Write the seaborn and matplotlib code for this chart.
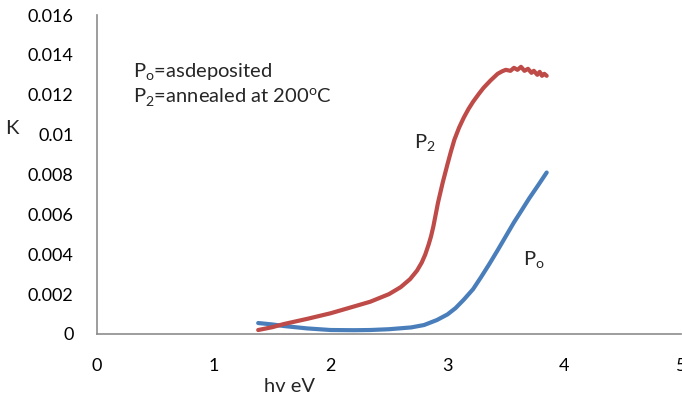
import matplotlib
matplotlib.use("Agg")
import matplotlib.pyplot as plt
import seaborn as sns
import pandas as pd

# Extinction coefficient K versus photon energy for the two films
hv_p0 = [1.38, 1.50, 1.60, 1.80, 2.00, 2.20, 2.34, 2.50, 2.69, 2.80, 2.91, 3.00,
         3.07, 3.14, 3.22, 3.29, 3.36, 3.43, 3.50, 3.57, 3.63, 3.70, 3.77, 3.85]
k_p0 = [0.00055, 0.00048, 0.00040, 0.00028, 0.00020, 0.00019, 0.00020, 0.00024,
        0.00033, 0.00045, 0.00070, 0.00098, 0.00130, 0.00172, 0.00225, 0.00287,
        0.00352, 0.00420, 0.00490, 0.00560, 0.00615, 0.00680, 0.00740, 0.00810]

hv_p2 = [1.38, 1.50, 1.60, 1.80, 2.00, 2.20, 2.34, 2.50, 2.60, 2.68, 2.74, 2.78,
         2.81, 2.84, 2.86, 2.88, 2.90, 2.92, 2.94, 2.96, 2.98, 3.00, 3.03, 3.06,
         3.10, 3.14, 3.18, 3.22, 3.27, 3.31, 3.37, 3.43, 3.47, 3.50, 3.54, 3.57,
         3.60, 3.63, 3.66, 3.69, 3.72, 3.74, 3.77, 3.79, 3.81, 3.83, 3.85]
k_p2 = [0.00020, 0.00034, 0.00050, 0.00076, 0.00104, 0.00138, 0.00162, 0.00200,
        0.00235, 0.00275, 0.00318, 0.00358, 0.00398, 0.00450, 0.00490, 0.00540,
        0.00600, 0.00660, 0.00710, 0.00760, 0.00805, 0.00850, 0.00915, 0.00975,
        0.01035, 0.01085, 0.01128, 0.01165, 0.01205, 0.01235, 0.01272, 0.01305,
        0.01318, 0.01325, 0.01320, 0.01335, 0.01325, 0.01340, 0.01320, 0.01330,
        0.01310, 0.01320, 0.01300, 0.01315, 0.01295, 0.01305, 0.01295]

x_ticks = [0, 1, 2, 3, 4, 5]
y_ticks = [0, 0.002, 0.004, 0.006, 0.008, 0.01, 0.012, 0.014, 0.016]
y_tick_labels = ["0", "0.002", "0.004", "0.006", "0.008", "0.01", "0.012", "0.014", "0.016"]

df = pd.concat([
    pd.DataFrame({"hv": hv_p0, "K": k_p0, "sample": "P0"}),
    pd.DataFrame({"hv": hv_p2, "K": k_p2, "sample": "P2"}),
])

sns.set_theme(style="white")
plt.rcParams["font.family"] = ["Lato", "DejaVu Sans"]

W, H = 682, 401
fig = plt.figure(figsize=(W / 100, H / 100), dpi=100)
ax = fig.add_axes([97 / W, 1 - 334 / H, (681 - 97) / W, (334 - 15) / H])

sns.lineplot(data=df, x="hv", y="K", hue="sample", sort=False,
             palette={"P0": "#4A7EBB", "P2": "#BE4B48"},
             linewidth=3.0, legend=False, ax=ax,
             solid_capstyle="round", solid_joinstyle="round")

ax.set_xlim(0, 5)
ax.set_ylim(0, 0.016)
ax.set_xticks(x_ticks)
ax.set_xticklabels([str(t) for t in x_ticks])
ax.set_yticks(y_ticks)
ax.set_yticklabels(y_tick_labels)
ax.set_xlabel("")
ax.set_ylabel("")

for side in ["top", "right"]:
    ax.spines[side].set_visible(False)
for side in ["left", "bottom"]:
    ax.spines[side].set_color("#8C8C8C")
    ax.spines[side].set_linewidth(1.2)
ax.tick_params(axis="both", which="major", direction="out", length=5, width=1.2,
               color="#8C8C8C", labelsize=13, labelcolor="black")
ax.tick_params(axis="y", pad=12)
ax.tick_params(axis="x", pad=12)

fs = 14.5
fig.text(5 / W, 1 - 128 / H, "K", fontsize=fs, va="center", ha="left")
fig.text(289 / W, 1 - 386 / H, "hv eV", fontsize=fs, va="center", ha="center")
fig.text(133 / W, 1 - 72 / H, "P$_\\mathregular{o}$=asdeposited", fontsize=fs,
         va="center", ha="left")
fig.text(133 / W, 1 - 97 / H, "P$_\\mathregular{2}$=annealed at 200$^\\mathregular{o}$C",
         fontsize=fs, va="center", ha="left")
fig.text(414 / W, 1 - 143 / H, "P$_\\mathregular{2}$", fontsize=fs, va="center", ha="left")
fig.text(523 / W, 1 - 260 / H, "P$_\\mathregular{o}$", fontsize=fs, va="center", ha="left")

fig.savefig("out.png", dpi=100)
